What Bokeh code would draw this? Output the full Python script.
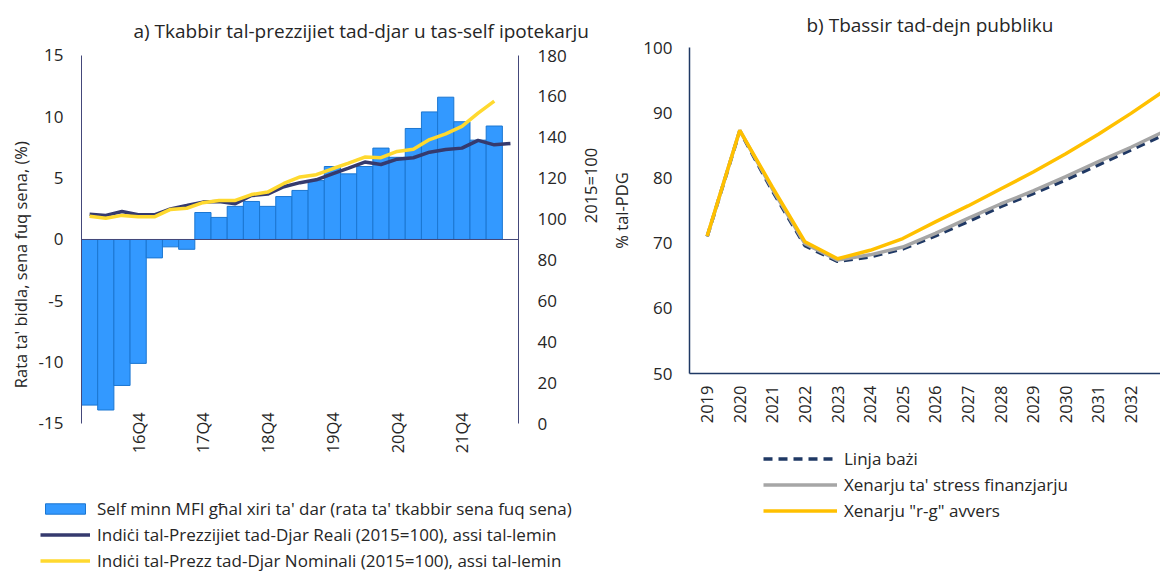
import math
from bokeh.plotting import figure
from bokeh.models import (Range1d, LinearAxis, FixedTicker, Legend, LegendItem, Label)
from bokeh.layouts import row
from bokeh.embed import file_html
from bokeh.resources import INLINE

# ---------------- data: panel a ----------------
quarters = ["16Q1", "16Q2", "16Q3", "16Q4", "17Q1", "17Q2", "17Q3", "17Q4",
            "18Q1", "18Q2", "18Q3", "18Q4", "19Q1", "19Q2", "19Q3", "19Q4",
            "20Q1", "20Q2", "20Q3", "20Q4", "21Q1", "21Q2", "21Q3", "21Q4",
            "22Q1", "22Q2", "22Q3"]
shown_quarters = ["16Q4", "17Q4", "18Q4", "19Q4", "20Q4", "21Q4"]
mortgage_growth = [-13.5, -13.9, -11.9, -10.1, -1.5, -0.6, -0.8, 2.2, 1.8, 2.7,
                   3.1, 2.7, 3.5, 4.0, 4.8, 5.95, 5.35, 5.95, 7.45, 6.7,
                   9.05, 10.4, 11.6, 9.6, 8.1, 9.25]
real_index = [102.4, 101.8, 103.7, 102.1, 102.1, 105.0, 106.6, 108.3, 108.6, 107.5,
              111.5, 112.2, 115.8, 117.8, 119.2, 122.1, 124.9, 127.9, 126.7, 129.3,
              130.0, 132.7, 134.0, 134.7, 138.5, 136.3, 137.0]
nominal_index = [101.4, 100.4, 101.8, 101.1, 101.1, 104.7, 105.3, 108.0, 109.1, 109.1,
                 112.0, 113.2, 117.4, 120.6, 121.7, 124.6, 127.4, 130.3, 130.0, 133.1,
                 134.2, 138.9, 141.7, 145.3, 151.8, 157.7]
left_ticks = [-15, -10, -5, 0, 5, 10, 15]
right_ticks = [0, 20, 40, 60, 80, 100, 120, 140, 160, 180]

# ---------------- data: panel b ----------------
years = [2019, 2020, 2021, 2022, 2023, 2024, 2025, 2026, 2027, 2028, 2029, 2030, 2031, 2032, 2033]
baseline = [71.0, 87.2, 78.0, 69.6, 67.2, 67.9, 69.1, 71.1, 73.3, 75.6, 77.6, 79.7, 82.0, 84.3, 86.6]
fin_stress = [71.0, 87.3, 78.3, 69.9, 67.4, 68.2, 69.4, 71.5, 73.8, 76.0, 78.0, 80.2, 82.5, 84.7, 87.1]
rg_adverse = [71.1, 87.3, 78.6, 70.2, 67.6, 68.9, 70.7, 73.25, 75.7, 78.3, 80.9, 83.7, 86.7, 89.9, 93.3]
debt_ticks = [50, 60, 70, 80, 90, 100]

FONT = "Open Sans"
TXT = "#262626"
AX_A = "#44487a"
AX_B = "#1f3864"
TICK_FS = "17px"
XL_FS = "16.5px"
LBL_FS = "16.5px"
LEG_FS = "17px"
TITLE_FS = "19px"


def style_axis(ax, fs, standoff, color):
    ax.axis_line_color = color
    ax.major_tick_line_color = None
    ax.minor_tick_line_color = None
    ax.major_tick_out = 0
    ax.major_tick_in = 0
    ax.minor_tick_out = 0
    ax.minor_tick_in = 0
    ax.major_label_standoff = standoff
    ax.major_label_text_font = FONT
    ax.major_label_text_font_size = fs
    ax.major_label_text_color = TXT
    ax.axis_label_text_font = FONT
    ax.axis_label_text_font_size = LBL_FS
    ax.axis_label_text_font_style = "normal"
    ax.axis_label_text_color = TXT


def text_label(p, text, x, y, size, angle=0.0, align="left"):
    p.add_layout(Label(x=x, y=y, x_units="screen", y_units="screen", text=text,
                       angle=angle, text_align=align, text_baseline="middle",
                       text_font=FONT, text_font_size=size, text_color=TXT))


def style_legend(leg, glyph_w):
    leg.glyph_width = glyph_w
    leg.glyph_height = 13
    leg.label_height = 20
    leg.spacing = 3
    leg.padding = 0
    leg.margin = 0
    leg.label_standoff = 7
    leg.label_text_font = FONT
    leg.label_text_font_size = LEG_FS
    leg.label_text_color = TXT
    leg.background_fill_alpha = 0
    leg.border_line_alpha = 0


H = 572
WA = 604

# ================= panel a =================
idx_bar = list(range(len(mortgage_growth)))
idx_real = list(range(len(real_index)))
idx_nom = list(range(len(nominal_index)))
x_first, x_last = -0.5, len(quarters) - 0.5

pa = figure(width=WA, height=H, output_backend="svg", toolbar_location=None,
            x_range=Range1d(-5.505, 31.81), y_range=Range1d(-27.147, 19.483),
            x_axis_location=None, y_axis_location=None,
            min_border_left=0, min_border_right=0, min_border_top=0, min_border_bottom=0)
pa.extra_y_ranges = {"idx": Range1d(-72.88, 206.91)}
pa.outline_line_color = None
pa.grid.grid_line_color = None

bars = pa.vbar(x=idx_bar, top=mortgage_growth, width=1.0, bottom=0,
               fill_color="#3399ff", line_color="#1b76d1", line_width=1)
# zero line of the category axis
pa.segment(x0=[x_first], y0=[0], x1=[x_last], y1=[0], line_color=AX_A, line_width=1)
real_r = pa.line(idx_real, real_index, y_range_name="idx", line_color="#353a6e", line_width=3.5)
nom_r = pa.line(idx_nom, nominal_index, y_range_name="idx", line_color="#ffd92f", line_width=3.5)

xa = LinearAxis(fixed_location=-13.1)
style_axis(xa, XL_FS, 12, None)
xa.ticker = FixedTicker(ticks=[quarters.index(q) for q in shown_quarters])
xa.major_label_overrides = {quarters.index(q): q for q in shown_quarters}
xa.major_label_orientation = math.pi / 2
pa.add_layout(xa, "below")

ya = LinearAxis(fixed_location=x_first, ticker=FixedTicker(ticks=left_ticks))
style_axis(ya, TICK_FS, 18, AX_A)
ya.major_label_overrides = {t: str(t) for t in left_ticks}
ya.bounds = (left_ticks[0], left_ticks[-1])
pa.add_layout(ya, "left")

ra = LinearAxis(y_range_name="idx", fixed_location=x_last, ticker=FixedTicker(ticks=right_ticks))
style_axis(ra, TICK_FS, 19, AX_A)
ra.bounds = (right_ticks[0], right_ticks[-1])
pa.add_layout(ra, "right")

text_label(pa, "a) Tkabbir tal-prezzijiet tad-djar u tas-self ipotekarju", 133, H - 30, TITLE_FS)
text_label(pa, "Rata ta' bidla, sena fuq sena,  (%)", 20, H - 262, LBL_FS, math.pi / 2, "center")
text_label(pa, "2015=100", 590, H - 185, LBL_FS, math.pi / 2, "center")

leg_a = Legend(items=[
    LegendItem(label="Self minn MFI għal xiri ta' dar (rata ta' tkabbir sena fuq sena)", renderers=[bars]),
    LegendItem(label="Indiċi tal-Prezzijiet tad-Djar Reali (2015=100), assi tal-lemin", renderers=[real_r]),
    LegendItem(label="Indiċi tal-Prezz tad-Djar Nominali (2015=100), assi tal-lemin", renderers=[nom_r]),
], location=(40, 0), orientation="vertical")
style_legend(leg_a, 50)
pa.add_layout(leg_a, "center")

# ================= panel b =================
x0_b = 2018.457
pb = figure(width=1160 - WA, height=H, output_backend="svg", toolbar_location=None,
            x_range=Range1d(2015.85, 2032.905), y_range=Range1d(19.48, 107.21),
            x_axis_location=None, y_axis_location=None,
            min_border_left=0, min_border_right=0, min_border_top=0, min_border_bottom=0)
pb.outline_line_color = None
pb.grid.grid_line_color = None

base_r = pb.line(years, baseline, line_color=AX_B, line_width=3.5, line_dash="9 6")
stress_r = pb.line(years, fin_stress, line_color="#a6a6a6", line_width=3.5)
rg_r = pb.line(years, rg_adverse, line_color="#ffc000", line_width=3.5)

xb = LinearAxis(fixed_location=debt_ticks[0], ticker=FixedTicker(ticks=years))
style_axis(xb, XL_FS, 12, AX_B)
xb.axis_line_width = 1.5
xb.bounds = (x0_b, years[-1] + 1)
xb.major_label_orientation = math.pi / 2
pb.add_layout(xb, "below")

yb = LinearAxis(fixed_location=x0_b, ticker=FixedTicker(ticks=debt_ticks))
style_axis(yb, TICK_FS, 17, AX_B)
yb.axis_line_width = 1.5
yb.bounds = (debt_ticks[0], debt_ticks[-1])
yb.axis_label = "% tal-PDG"
yb.axis_label_standoff = 7
pb.add_layout(yb, "left")

text_label(pb, "b) Tbassir tad-dejn pubbliku", 202, H - 24, TITLE_FS)

leg_b = Legend(items=[
    LegendItem(label="Linja bażi", renderers=[base_r]),
    LegendItem(label="Xenarju ta' stress finanzjarju", renderers=[stress_r]),
    LegendItem(label="Xenarju \"r-g\" avvers", renderers=[rg_r]),
], location=(159, 50), orientation="vertical")
style_legend(leg_b, 74)
pb.add_layout(leg_b, "center")

layout = row(pa, pb)
open("out.html", "w").write(file_html(layout, INLINE))
